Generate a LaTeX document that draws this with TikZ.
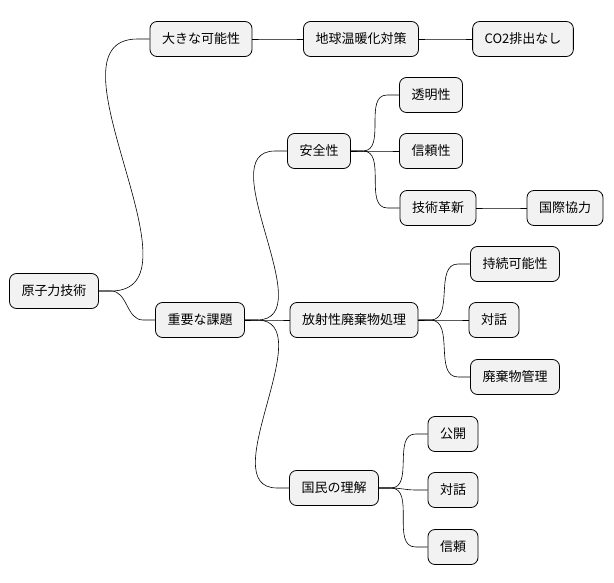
\documentclass[tikz,border=0pt]{standalone}
\usepackage{fontspec}
\setmainfont{Noto Sans CJK JP}
\tikzset{
	topic/.style={draw, fill=gray!10, rounded corners=7pt, line width=.8pt, minimum height=35pt, inner xsep=12pt, font=\fontsize{13pt}{15pt}\selectfont},
	link/.style={line width=.6pt}
}
\newcommand{\branch}[2]{\draw[link] (#1.east) -- ++(12,0) to[out=0,in=180] ($(#2.west)+(-12,0)$) -- (#2.west);}
\usetikzlibrary{calc}
\begin{document}
\begin{tikzpicture}[x=1pt,y=-1pt]
	\useasboundingbox (0,0) rectangle (614,583);
	\node [topic] (root) at (54,291) {原子力技術};
	\node [topic] (chance) at (201,39) {大きな可能性};
	\node [topic] (climate) at (361,39) {地球温暖化対策};
	\node [topic] (co2) at (523,39) {CO2排出なし};
	\node [topic] (issue) at (200,320) {重要な課題};
	\node [topic] (safety) at (319,151) {安全性};
	\node [topic] (clear) at (431,95) {透明性};
	\node [topic] (trust) at (431,151) {信頼性};
	\node [topic] (innov) at (438,208) {技術革新};
	\node [topic] (intl) at (565,208) {国際協力};
	\node [topic] (waste) at (354,320) {放射性廃棄物処理};
	\node [topic] (sustain) at (515,264) {持続可能性};
	\node [topic] (talk) at (494,320) {対話};
	\node [topic] (manage) at (515,377) {廃棄物管理};
	\node [topic] (public) at (334,488) {国民の理解};
	\node [topic] (open) at (453,434) {公開};
	\node [topic] (talkb) at (453,490) {対話};
	\node [topic] (faith) at (453,547) {信頼};
	% branches
	\branch{root}{chance}
	\branch{root}{issue}
	\branch{chance}{climate}
	\branch{climate}{co2}
	\branch{issue}{safety}
	\branch{issue}{waste}
	\branch{issue}{public}
	\branch{safety}{clear}
	\branch{safety}{trust}
	\branch{safety}{innov}
	\branch{innov}{intl}
	\branch{waste}{sustain}
	\branch{waste}{talk}
	\branch{waste}{manage}
	\branch{public}{open}
	\branch{public}{talkb}
	\branch{public}{faith}
\end{tikzpicture}
\end{document}
